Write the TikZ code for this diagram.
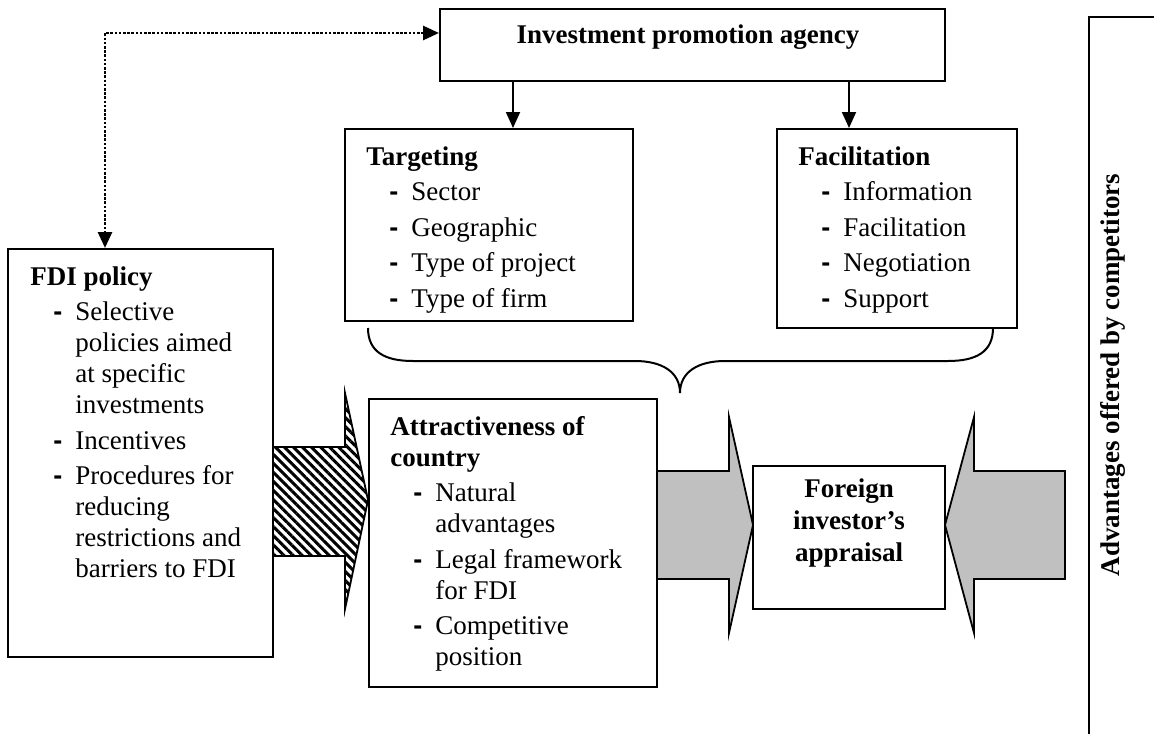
\documentclass[tikz,border=0pt]{standalone}
\usepackage{fontspec}
\setmainfont{Liberation Serif}
\newfontfamily\dashfont{Liberation Sans}
\usetikzlibrary{arrows.meta,patterns.meta}
\definecolor{arrgray}{RGB}{192,192,192}
\newcommand\hd[1]{\textbf{#1}\par}
\newcommand\ditem[1]{{\leftskip=22.5pt\noindent\llap{\makebox[11pt][l]{\dashfont\bfseries -}}#1\par}}
\begin{document}
\begin{tikzpicture}[x=0.5pt,y=-0.5pt,
  box/.style={draw, line width=1pt, fill=white, inner sep=0pt, rectangle},
  arr/.style={line width=0.9pt, -{Triangle[length=8pt,width=7pt]}},
  dotline/.style={line width=1.4pt, dash pattern=on 1.3pt off 0.8pt, {Triangle[length=8pt,width=7pt]}-{Triangle[length=8pt,width=7pt]}},
  blockarrow/.style={draw, line width=0.9pt, line join=miter},
  txt/.style={inner sep=0pt, font=\fontsize{13.5}{15.5}\selectfont},
  btxt/.style={inner sep=0pt, font=\fontsize{13.5}{15.5}\selectfont\bfseries}]
\useasboundingbox (0,0) rectangle (1154,733);
\clip (0,0) rectangle (1154,733);

% block arrows
\draw[blockarrow, pattern={Lines[angle=-45,distance=3.2pt,line width=1.5pt]}]
  (273,447) -- (345,447) -- (345,393) -- (368,500) -- (345,609) -- (345,556) -- (273,556) -- cycle;
\draw[blockarrow, fill=arrgray]
  (657,471) -- (729,471) -- (729,417) -- (753,525) -- (729,633) -- (729,579) -- (657,579) -- cycle;
\draw[blockarrow, fill=arrgray]
  (1065,471) -- (974,471) -- (974,417) -- (945,525) -- (974,633) -- (974,579) -- (1065,579) -- cycle;

% boxes
\node[box, minimum width=252.5pt, minimum height=36pt] (ipa) at (692.5,45) {};
\node[box, minimum width=144pt, minimum height=96pt] (tgt) at (489,225) {};
\node[box, minimum width=120pt, minimum height=99.5pt] (fac) at (897,228.5) {};
\node[box, minimum width=132.5pt, minimum height=204pt] (fdi) at (140.5,453) {};
\node[box, minimum width=144pt, minimum height=144pt] (att) at (513,543) {};
\node[box, minimum width=96pt, minimum height=71.5pt] (for) at (849,537.5) {};
\node[box, minimum width=56pt, minimum height=383pt] (comp) at (1145,400) {};

% brace
\draw[line width=1pt] (368,328) .. controls (368,352) and (385,361) .. (413,361) -- (635,361)
  .. controls (662,361) and (680,372) .. (680,393)
  .. controls (680,372) and (698,361) .. (725,361) -- (948,361)
  .. controls (976,361) and (993,352) .. (993,328);

% connectors
\draw[arr] (513,0 |- ipa.south) -- (513,0 |- tgt.north);
\draw[arr] (849,0 |- ipa.south) -- (849,0 |- fac.north);
\draw[dotline] (ipa.west |- 0,33) -| (105,0 |- fdi.north);

% texts
\node[btxt, anchor=base] (ipatext) at (688,44) {Investment promotion agency};
\node[txt, anchor=base west] (tgttext) at (366,165) {\parbox[t]{140pt}{\raggedright\hd{Targeting}\setlength\parskip{2.25pt}\ditem{Sector}\ditem{Geographic}\ditem{Type of project}\ditem{Type of firm}}};
\node[txt, anchor=base west] (factext) at (798,165) {\parbox[t]{110pt}{\raggedright\hd{Facilitation}\setlength\parskip{2.25pt}\ditem{Information}\ditem{Facilitation}\ditem{Negotiation}\ditem{Support}}};
\node[txt, anchor=base west] (fditext) at (30,285) {\parbox[t]{130pt}{\raggedright\hd{FDI policy}\setlength\parskip{2.25pt}\ditem{Selective\\policies aimed\\at specific\\investments}\ditem{Incentives}\ditem{Procedures for\\reducing\\restrictions and\\barriers to FDI}}};
\node[txt, anchor=base west] (atttext) at (390,435) {\parbox[t]{140pt}{\raggedright\hd{Attractiveness of\\country}\setlength\parskip{2.25pt}\ditem{Natural\\advantages}\ditem{Legal framework\\for FDI}\ditem{Competitive\\position}}};
\node[inner sep=0pt, anchor=base, font=\fontsize{13.5}{16}\selectfont\bfseries] (fortext) at (849,497) {\parbox[t]{90pt}{\centering Foreign\\investor’s\\appraisal}};
\node[btxt, anchor=base, rotate=90] (comptext) at (1119,375) {Advantages offered by competitors};
\end{tikzpicture}
\end{document}
